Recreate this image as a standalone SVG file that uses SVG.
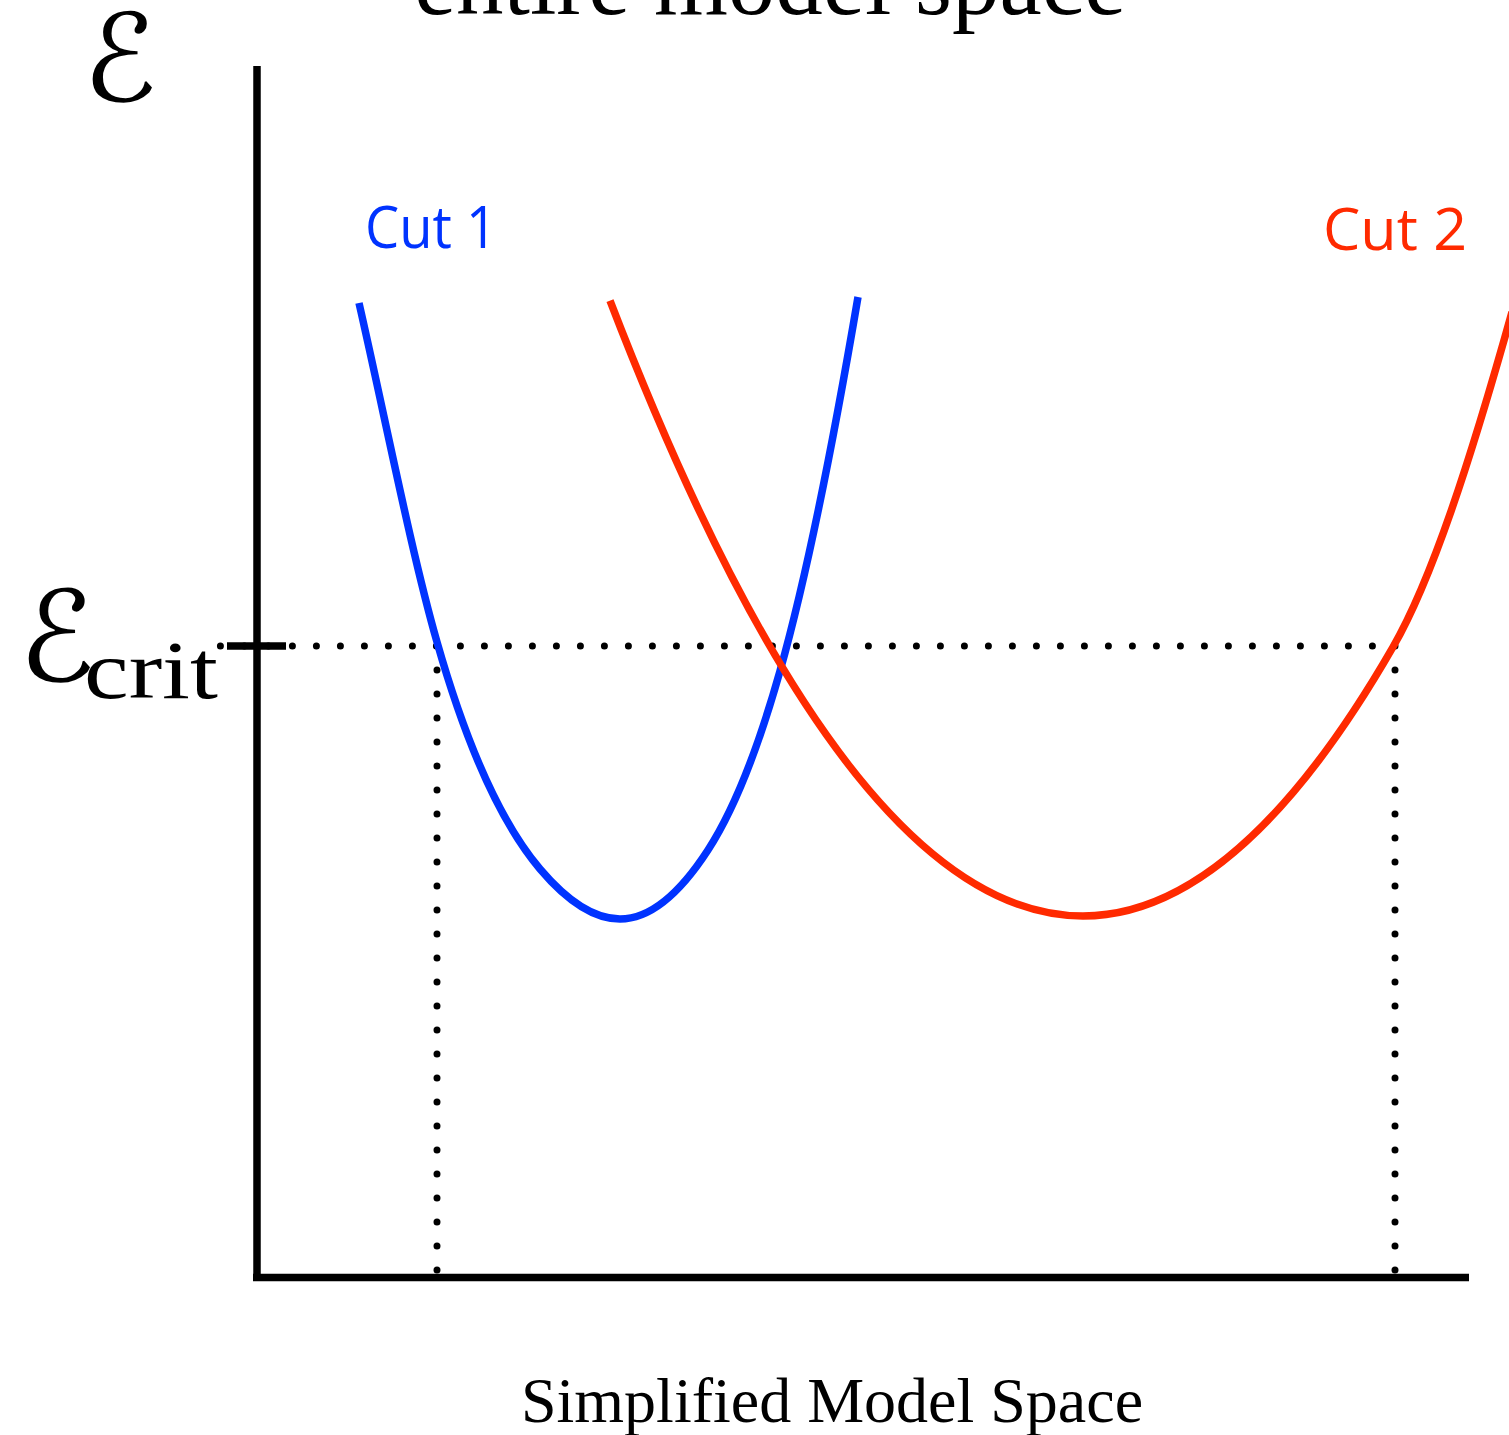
<svg xmlns="http://www.w3.org/2000/svg" width="1509" height="1435" viewBox="0 0 1509 1435">
<style>
.axis{stroke:#000;stroke-width:7.5;fill:none}
.dots{stroke:#000;stroke-width:7;stroke-linecap:round;stroke-dasharray:0 24;fill:none}
.curve{stroke-width:7.5;fill:none;stroke-linecap:butt}
.serif{font-family:"Liberation Serif","Times New Roman",serif;fill:#000}
.script{font-family:"DejaVu Serif","DejaVu Sans",serif;font-style:italic;fill:#000}
.label{font-family:"Open Sans","Liberation Sans",sans-serif}
</style>
<rect width="1509" height="1435" fill="#fff"/>
<g id="title"><text class="serif" x="770" y="14" font-size="95" text-anchor="middle">entire model space</text></g>
<g id="y-label"><text class="script" x="120" y="101" font-size="122" text-anchor="middle">ℰ</text></g>
<g id="crit-label"><text class="script" x="57" y="681" font-size="126" text-anchor="middle">ℰ</text><text class="serif" x="84" y="698" font-size="82" textLength="134" lengthAdjust="spacingAndGlyphs">crit</text></g>
<g id="connectors">
<path class="dots" d="M220.4,646 H1396.4"/>
<path class="dots" d="M437,646 V1294"/>
<path class="dots" d="M1395,646 V1294"/>
</g>
<g id="axes">
<line class="axis" x1="257" y1="66" x2="257" y2="1281"/>
<line class="axis" x1="253" y1="1277.5" x2="1469" y2="1277.5"/>
<line class="axis" x1="227" y1="646" x2="286" y2="646" stroke-width="8"/>
</g>
<g id="cut1-curve"><path class="curve" stroke="#0033ff" d="M359,303 C385,417 411,551 437,642 C471.3,762.2 505.7,828.5 540,869 C566.7,900.5 593.3,919 620,919 C649.3,919 678.7,895.2 708,850 C732,813 756,756 780,671 C806,579 832,450 858,297"/></g>
<g id="cut2-curve"><path class="curve" stroke="#ff2a00" d="M610,300.7 Q846.5,916 1083,916 Q1238,916 1393,647 C1431.7,579.9 1470.3,461 1512,312"/></g>
<g id="cut1-label"><text class="label" x="365" y="248" font-size="58" fill="#0033ff" textLength="132" lengthAdjust="spacingAndGlyphs">Cut 1</text></g>
<g id="cut2-label"><text class="label" x="1323" y="250" font-size="58" fill="#ff2a00" textLength="144" lengthAdjust="spacingAndGlyphs">Cut 2</text></g>
<g id="x-label"><text class="serif" x="832" y="1422" font-size="64" text-anchor="middle">Simplified Model Space</text></g>
</svg>
